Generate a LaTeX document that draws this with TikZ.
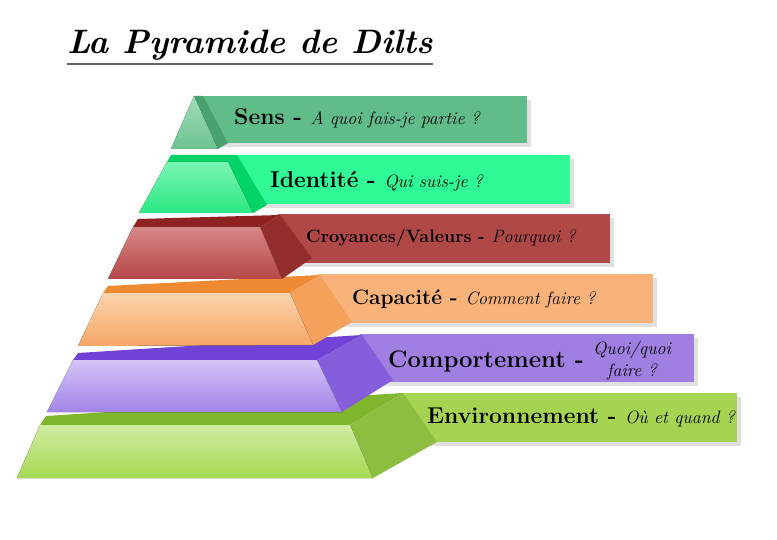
\documentclass[tikz,border=0pt]{standalone}
\usepackage{tikz}
\usepackage{xcolor}
\definecolor{B-sens}{RGB}{96,188,136}
\definecolor{L-sens}{RGB}{160,220,182}
\definecolor{D-sens}{RGB}{110,195,146}
\definecolor{S-sens}{RGB}{72,162,112}
\definecolor{B-ident}{RGB}{48,250,150}
\definecolor{L-ident}{RGB}{120,246,178}
\definecolor{D-ident}{RGB}{44,232,132}
\definecolor{S-ident}{RGB}{0,212,102}
\definecolor{B-croy}{RGB}{176,72,72}
\definecolor{L-croy}{RGB}{216,134,134}
\definecolor{D-croy}{RGB}{180,72,72}
\definecolor{S-croy}{RGB}{142,34,34}
\definecolor{B-capa}{RGB}{248,178,122}
\definecolor{L-capa}{RGB}{251,212,172}
\definecolor{D-capa}{RGB}{246,166,102}
\definecolor{S-capa}{RGB}{240,138,50}
\definecolor{B-comp}{RGB}{160,126,226}
\definecolor{L-comp}{RGB}{212,196,246}
\definecolor{D-comp}{RGB}{162,132,232}
\definecolor{S-comp}{RGB}{112,66,214}
\definecolor{B-env}{RGB}{166,212,82}
\definecolor{L-env}{RGB}{208,236,162}
\definecolor{D-env}{RGB}{166,216,82}
\definecolor{S-env}{RGB}{128,182,44}
\newcommand\quest[1]{{\normalfont\itshape\fontsize{18}{22}\selectfont #1}}

\begin{document}
\begin{tikzpicture}[x=1bp,y=-1bp,
  titre/.style={font=\fontsize{34}{36}\selectfont\bfseries\itshape,inner sep=0,anchor=base west},
  niveau/.style={font=\fontsize{#1}{#1}\selectfont\bfseries,inner sep=0,anchor=base west},
  face/.style={shade,top color=L-#1,bottom color=D-#1},
  ombre/.style={fill=black!30,opacity=.4}]
\useasboundingbox (0,0) rectangle (777,540);
\node[titre] (titre) at (67,54) {La Pyramide de Dilts};
\draw[line width=2bp,black!60] ([yshift=-3bp]titre.south west) -- ([yshift=-3bp]titre.south east);
\foreach \xa/\xb/\ya/\yb/\c in {200/527/96/143/sens,235/570/155/204/ident,278/610/214/263/croy,
    318/653/274/323/capa,360/694/334/382/comp,400/737/393/442/env}{
    \fill[ombre] (\xa+4,\ya+4) rectangle (\xb+4,\yb+4);
    \fill[B-\c] (\xa,\ya) rectangle (\xb,\yb);
}
\fill[S-env] (40,425) -- (46,416) -- (403,393) -- (350,425) -- cycle;
\fill[S-env!90!white] (350,425) -- (403,393) -- (437,442) -- (373,478) -- cycle;
\fill[face=env] (40,425) -- (350,425) -- (373,478) -- (17,478) -- cycle;
\fill[S-comp] (73,360) -- (78,353) -- (362,335) -- (317,360) -- cycle;
\fill[S-comp!85!white] (317,360) -- (362,335) -- (393,380) -- (342,412) -- cycle;
\fill[face=comp] (73,360) -- (317,360) -- (342,412) -- (47,412) -- cycle;
\fill[S-capa] (103,293) -- (108,286) -- (320,275) -- (290,293) -- cycle;
\fill[S-capa!80!white] (290,293) -- (320,275) -- (352,322) -- (313,345) -- cycle;
\fill[face=capa] (103,293) -- (290,293) -- (313,345) -- (78,346) -- cycle;
\fill[S-croy] (133,227) -- (138,219) -- (280,215) -- (260,227) -- cycle;
\fill[S-croy!95!white] (260,227) -- (280,215) -- (312,258) -- (282,279) -- cycle;
\fill[face=croy] (133,227) -- (260,227) -- (282,279) -- (108,279) -- cycle;
\fill[S-ident] (167,162) -- (171,155) -- (237,155) -- (228,162) -- cycle;
\fill[S-ident] (228,162) -- (237,155) -- (267,205) -- (253,213) -- cycle;
\fill[face=ident] (167,162) -- (228,162) -- (253,213) -- (139,213) -- cycle;
\fill[S-sens] (194,96) -- (203,96) -- (228,143) -- (218,149) -- cycle;
\fill[face=sens] (194,96) -- (218,149) -- (171,149) -- cycle;
\node[niveau=23] (sens) at (234,125) {Sens - \quest{A quoi fais-je partie ?}};
\node[niveau=23] (ident) at (270,188) {Identité - \quest{Qui suis-je ?}};
\node[niveau=18] (croy) at (306,243) {Croyances/Valeurs - \quest{Pourquoi ?}};
\node[niveau=21] (capa) at (352,305) {Capacité - \quest{Comment faire ?}};
\node[niveau=24] (comp) at (388,367) {Comportement -};
\node[font=\normalfont\itshape\fontsize{18}{22}\selectfont,align=center,inner sep=0] (quoi) at (632,361) {Quoi/quoi\\faire ?};
\node[niveau=23] (env) at (427,423) {Environnement - \quest{Où et quand ?}};
\end{tikzpicture}
\end{document}
